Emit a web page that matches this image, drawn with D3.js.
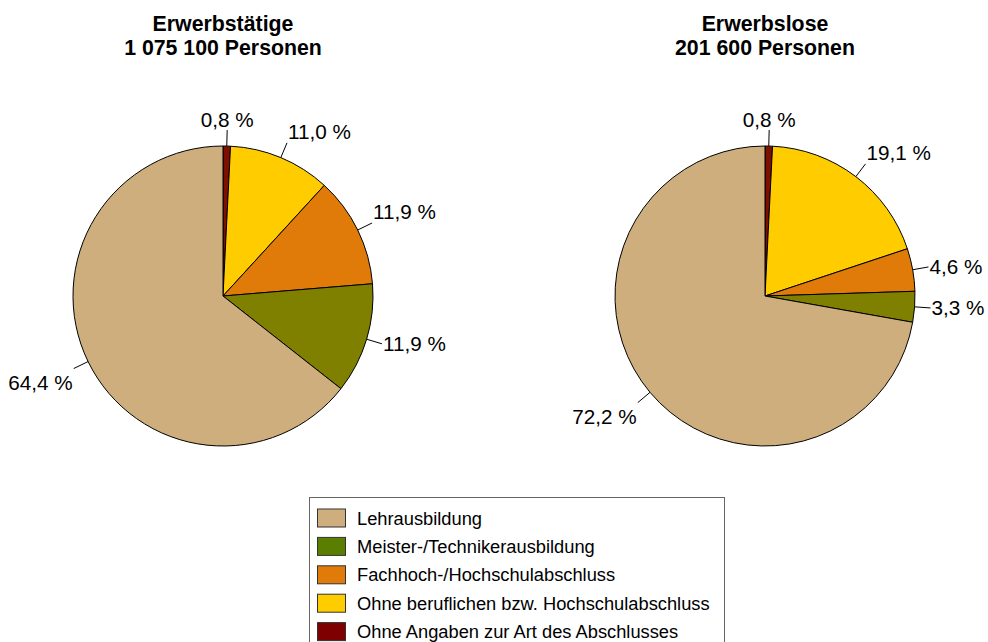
<!DOCTYPE html>
<html><head><meta charset="utf-8">
<script src="https://cdn.jsdelivr.net/npm/d3@7"></script>
<style>body{margin:0;background:#fff;}svg{display:block;font-family:Arial,"Liberation Sans",sans-serif;}</style>
</head><body>
<svg id="c" width="988" height="642"></svg>
<script>
// Data
const categories = ["Lehrausbildung","Meister-/Technikerausbildung","Fachhoch-/Hochschulabschluss","Ohne beruflichen bzw. Hochschulabschluss","Ohne Angaben zur Art des Abschlusses"];
const erwerbstaetige = [64.4, 11.9, 11.9, 11.0, 0.8];
const erwerbslose = [72.2, 3.3, 4.6, 19.1, 0.8];
const titles = [["Erwerbstätige","1 075 100 Personen"],["Erwerbslose","201 600 Personen"]];
const pieColors = ["#CFAE7E","#808000","#E07B0A","#FFCC00","#7F1000"];
const legendColors = ["#CFAE7E","#5A7F00","#E07B0A","#FFCC00","#7F0000"];

const svg = d3.select("#c");
const R = 150;
const centers = [[223,296],[765,296]];
const datasets = [erwerbstaetige, erwerbslose];

const pie = d3.pie().sort(null).value(d => d.v);
const arc = d3.arc().innerRadius(0).outerRadius(R);
const fmt = v => d3.format(".1f")(v).replace(".", ",") + " %";

datasets.forEach((vals, k) => {
  const [cx, cy] = centers[k];
  const g = svg.append("g").attr("transform", `translate(${cx},${cy})`);
  const items = vals.map((v,i)=>({v, i})).reverse();
  const arcs = pie(items);
  g.selectAll("path").data(arcs).join("path")
    .attr("d", arc).attr("fill", d => pieColors[d.data.i])
    .attr("stroke", "#000").attr("stroke-width", 1).attr("stroke-linejoin","round");
  arcs.forEach(d => {
    const a = (d.startAngle + d.endAngle) / 2;
    const s = Math.sin(a), c = Math.cos(a);
    const r1 = R, r2 = R + 16;
    g.append("line").attr("x1", s*r1).attr("y1", -c*r1).attr("x2", s*r2).attr("y2", -c*r2)
      .attr("stroke", "#000").attr("stroke-width", 1);
    const anchor = s > 0.3 ? "start" : (s < -0.3 ? "end" : "middle");
    const dy = c > 0.3 ? -11 : (c < -0.3 ? 14 : 0);
    const dx = anchor === "start" ? 1 : (anchor === "end" ? -1 : 0);
    g.append("text").attr("x", s*r2 + dx).attr("y", -c*r2 + dy)
      .attr("text-anchor", anchor).attr("dominant-baseline", "central")
      .attr("font-size", 20.7).attr("fill", "#000").text(fmt(d.data.v));
  });
  const t = svg.append("text").attr("x", cx).attr("text-anchor", "middle")
    .attr("font-size", 21.3).attr("font-weight", "bold").attr("fill", "#000");
  titles[k].forEach((line, j) => t.append("tspan").attr("x", cx).attr("y", 31 + j*24).text(line));
});

// Legend
const lg = svg.append("g");
lg.append("rect").attr("x", 309.5).attr("y", 497.5).attr("width", 415).attr("height", 160)
  .attr("fill", "#fff").attr("stroke", "#666").attr("stroke-width", 1);
categories.forEach((c, i) => {
  const y = 518 + i * 28.4;
  lg.append("rect").attr("x", 317.5).attr("y", y - 9).attr("width", 28).attr("height", 18)
    .attr("fill", legendColors[i]).attr("stroke", "#333").attr("stroke-width", 1);
  lg.append("text").attr("x", 357).attr("y", y).attr("dominant-baseline", "central")
    .attr("font-size", 18.3).attr("fill", "#000").text(c);
});
</script>
</body></html>
